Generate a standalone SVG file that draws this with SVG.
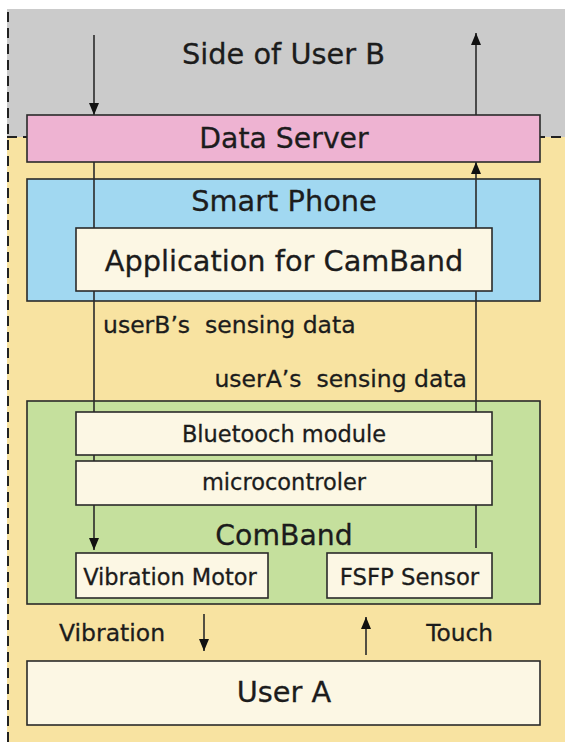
<svg xmlns="http://www.w3.org/2000/svg" width="565" height="742" viewBox="0 0 565 742">
  <style>
    text { font-family: "DejaVu Sans", "Liberation Sans", sans-serif; fill: #1c1c1c; stroke: #1c1c1c; stroke-width: 0.3; text-anchor: middle; dominant-baseline: central; }
    .box { stroke: #2a2a2a; stroke-width: 1.6; }
    .wire { stroke: #2a2a2a; stroke-width: 1.6; fill: none; }
    .dash { stroke: #222; stroke-width: 2; stroke-dasharray: 10 6; fill: none; }
    .cream { fill: #fcf7e4; }
    .big { font-size: 28.8px; }
    .mid { font-size: 22.8px; }
    .start { text-anchor: start; }
    .end { text-anchor: end; }
  </style>
  <defs>
    <marker id="arrow" viewBox="0 0 12 10" refX="12" refY="5" markerWidth="12" markerHeight="11" markerUnits="userSpaceOnUse" orient="auto">
      <path d="M0,0 L12,5 L0,10 z" fill="#111"/>
    </marker>
  </defs>

  <!-- regions -->
  <rect x="0" y="0" width="565" height="742" fill="#ffffff"/>
  <rect x="7" y="9" width="558" height="128" fill="#cbcbcb"/>
  <rect x="7" y="137" width="558" height="605" fill="#f8e3a1"/>
  <line class="dash" x1="7" y1="137" x2="565" y2="137"/>
  <line class="dash" x1="8" y1="12" x2="8" y2="742"/>
  <text class="big" x="283.5" y="54">Side of User B</text>

  <!-- outer nodes -->
  <g id="smart-phone">
    <rect class="box" x="27" y="179" width="513" height="122" fill="#a1d8f1"/>
    <text class="big" x="284" y="201">Smart Phone</text>
  </g>
  <g id="comband">
    <rect class="box" x="27" y="401" width="513" height="203" fill="#c5e09d"/>
    <text class="big" x="284" y="535" style="font-size:28.3px">ComBand</text>
  </g>

  <!-- connectors -->
  <g id="connectors">
    <line class="wire" x1="94" y1="35" x2="94" y2="115" marker-end="url(#arrow)"/>
    <line class="wire" x1="94" y1="162" x2="94" y2="550" marker-end="url(#arrow)"/>
    <line class="wire" x1="476" y1="548" x2="476" y2="162" marker-end="url(#arrow)"/>
    <line class="wire" x1="476" y1="115" x2="476" y2="33" marker-end="url(#arrow)"/>
    <line class="wire" x1="204" y1="614" x2="204" y2="651" marker-end="url(#arrow)"/>
    <line class="wire" x1="366" y1="655" x2="366" y2="617" marker-end="url(#arrow)"/>
  </g>

  <!-- inner nodes -->
  <g id="data-server">
    <rect class="box" x="27" y="115" width="513" height="47" fill="#eeb3d2"/>
    <text class="big" x="284" y="138" style="font-size:28.3px">Data Server</text>
  </g>
  <g id="application">
    <rect class="box cream" x="76" y="228" width="416" height="63"/>
    <text class="big" x="284" y="261">Application for CamBand</text>
  </g>
  <g id="bluetooth">
    <rect class="box cream" x="76" y="412" width="416" height="43"/>
    <text class="mid" x="284" y="434" style="font-size:22.5px">Bluetooch module</text>
  </g>
  <g id="microcontroller">
    <rect class="box cream" x="76" y="461" width="416" height="44"/>
    <text class="mid" x="284" y="482" style="font-size:22.5px">microcontroler</text>
  </g>
  <g id="vibration-motor">
    <rect class="box cream" x="76" y="553" width="192" height="45"/>
    <text class="mid" x="170" y="577" style="font-size:22.5px">Vibration Motor</text>
  </g>
  <g id="fsfp-sensor">
    <rect class="box cream" x="327" y="553" width="165" height="45"/>
    <text class="mid" x="409.5" y="577">FSFP Sensor</text>
  </g>
  <g id="user-a">
    <rect class="box cream" x="27" y="661" width="513" height="64"/>
    <text class="big" x="284" y="692">User A</text>
  </g>

  <!-- labels -->
  <text class="mid start" x="103" y="325" xml:space="preserve" style="font-size:23.5px">userB’s  sensing data</text>
  <text class="mid end" x="467" y="379" xml:space="preserve" style="font-size:23.5px">userA’s  sensing data</text>
  <text class="mid start" x="59" y="633" style="font-size:23.5px">Vibration</text>
  <text class="mid end" x="493" y="632" style="font-size:23.3px">Touch</text>
</svg>
